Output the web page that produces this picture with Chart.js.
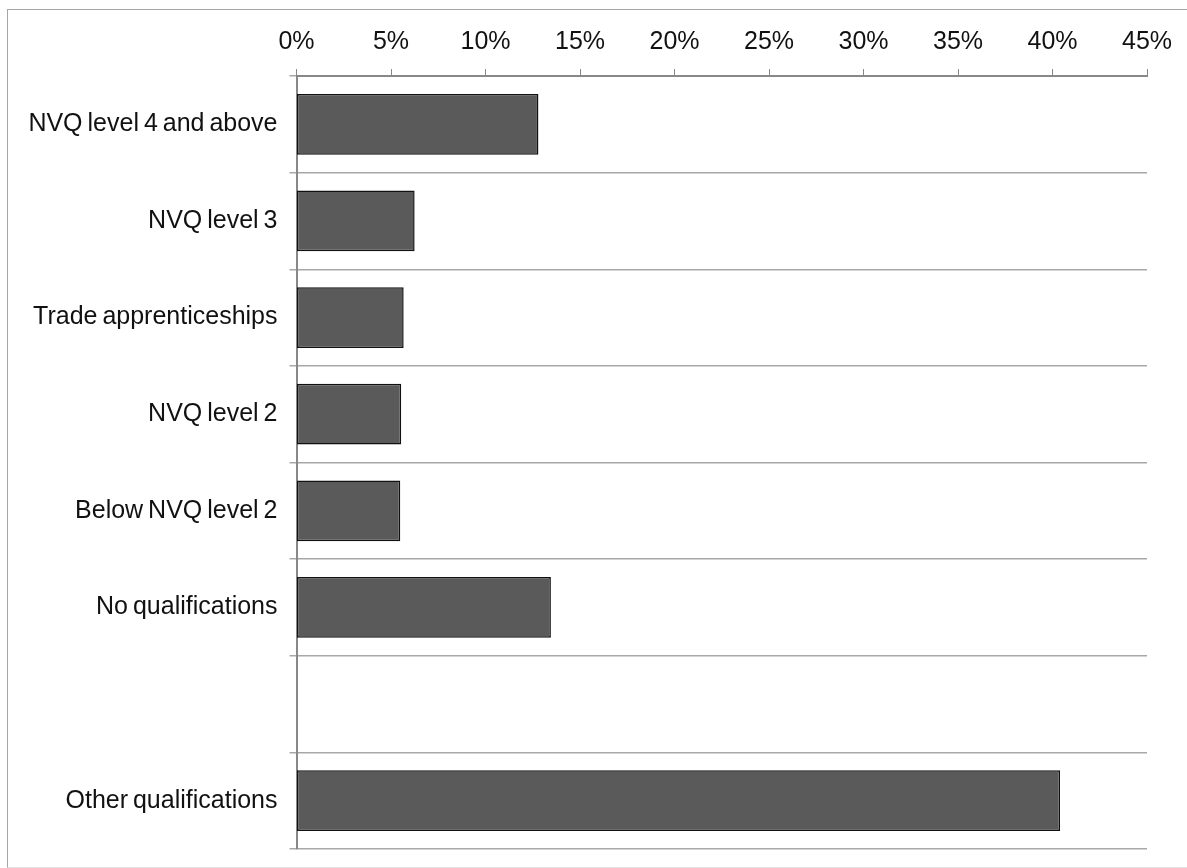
<!DOCTYPE html>
<html>
<head>
<meta charset="utf-8">
<script src="https://cdn.jsdelivr.net/npm/chart.js@4/dist/chart.umd.min.js"></script>
<style>
  html, body { margin: 0; padding: 0; background: #fff; overflow: hidden; }
  #frame {
    position: absolute; left: 7px; top: 9px; width: 1200px; height: 857px;
    border-top: 1px solid #a6a6a6; border-left: 1px solid #a6a6a6; border-bottom: 1px solid #e4e4e4;
  }
  #wrap { position: absolute; left: 0; top: 0; width: 1187px; height: 868px; }
</style>
</head>
<body>
<div id="frame"></div>
<div id="wrap"><canvas id="c" width="1187" height="868"></canvas></div>
<script>
// Qualification categories, top to bottom (one empty slot before the last group)
const categories = [
  'NVQ level 4 and above',
  'NVQ level 3',
  'Trade apprenticeships',
  'NVQ level 2',
  'Below NVQ level 2',
  'No qualifications',
  '',
  'Other qualifications'
];
// Share of respondents, percent
const shares = [12.8, 6.25, 5.67, 5.54, 5.49, 13.46, null, 40.4];
const axisMax = 45;
const axisStep = 5;

const labelFont = { family: 'Liberation Sans, Arial, sans-serif', size: 25 };

// Slightly tighter word gaps for the axis labels
const tightWords = {
  id: 'tightWords',
  beforeDraw(chart) { chart.ctx.wordSpacing = '-2px'; }
};

new Chart(document.getElementById('c'), {
  type: 'bar',
  data: {
    labels: categories,
    datasets: [{
      data: shares,
      backgroundColor: '#5a5a5a',
      borderColor: '#111111',
      borderWidth: 1.5,
      borderSkipped: false,
      barPercentage: 1,
      categoryPercentage: 0.63
    }]
  },
  options: {
    indexAxis: 'y',
    responsive: false,
    animation: false,
    layout: { padding: { left: 8, top: 10, right: 40, bottom: 19 } },
    plugins: { legend: { display: false }, tooltip: { enabled: false } },
    scales: {
      x: {
        position: 'top',
        min: 0,
        max: axisMax,
        ticks: {
          stepSize: axisStep,
          color: '#111',
          font: labelFont,
          padding: 12,
          callback: v => v + '%'
        },
        grid: {
          drawOnChartArea: false,
          drawTicks: true,
          tickLength: 7,
          color: '#888888',
          lineWidth: 1
        },
        border: { display: true, color: '#888888', width: 2 },
        afterFit: s => { s.height = 66; }
      },
      y: {
        offset: true,
        ticks: {
          color: '#111',
          font: labelFont,
          padding: 12
        },
        grid: {
          offset: true,
          drawOnChartArea: true,
          drawTicks: true,
          tickLength: 7,
          color: '#a8a8a8',
          lineWidth: 1.5
        },
        border: { display: true, color: '#888888', width: 2 },
        afterFit: s => {
          s.width = 288.5;
          s.paddingTop = 0;
          s.paddingBottom = 0;
        }
      }
    }
  },
  plugins: [tightWords]
});
</script>
</body>
</html>
